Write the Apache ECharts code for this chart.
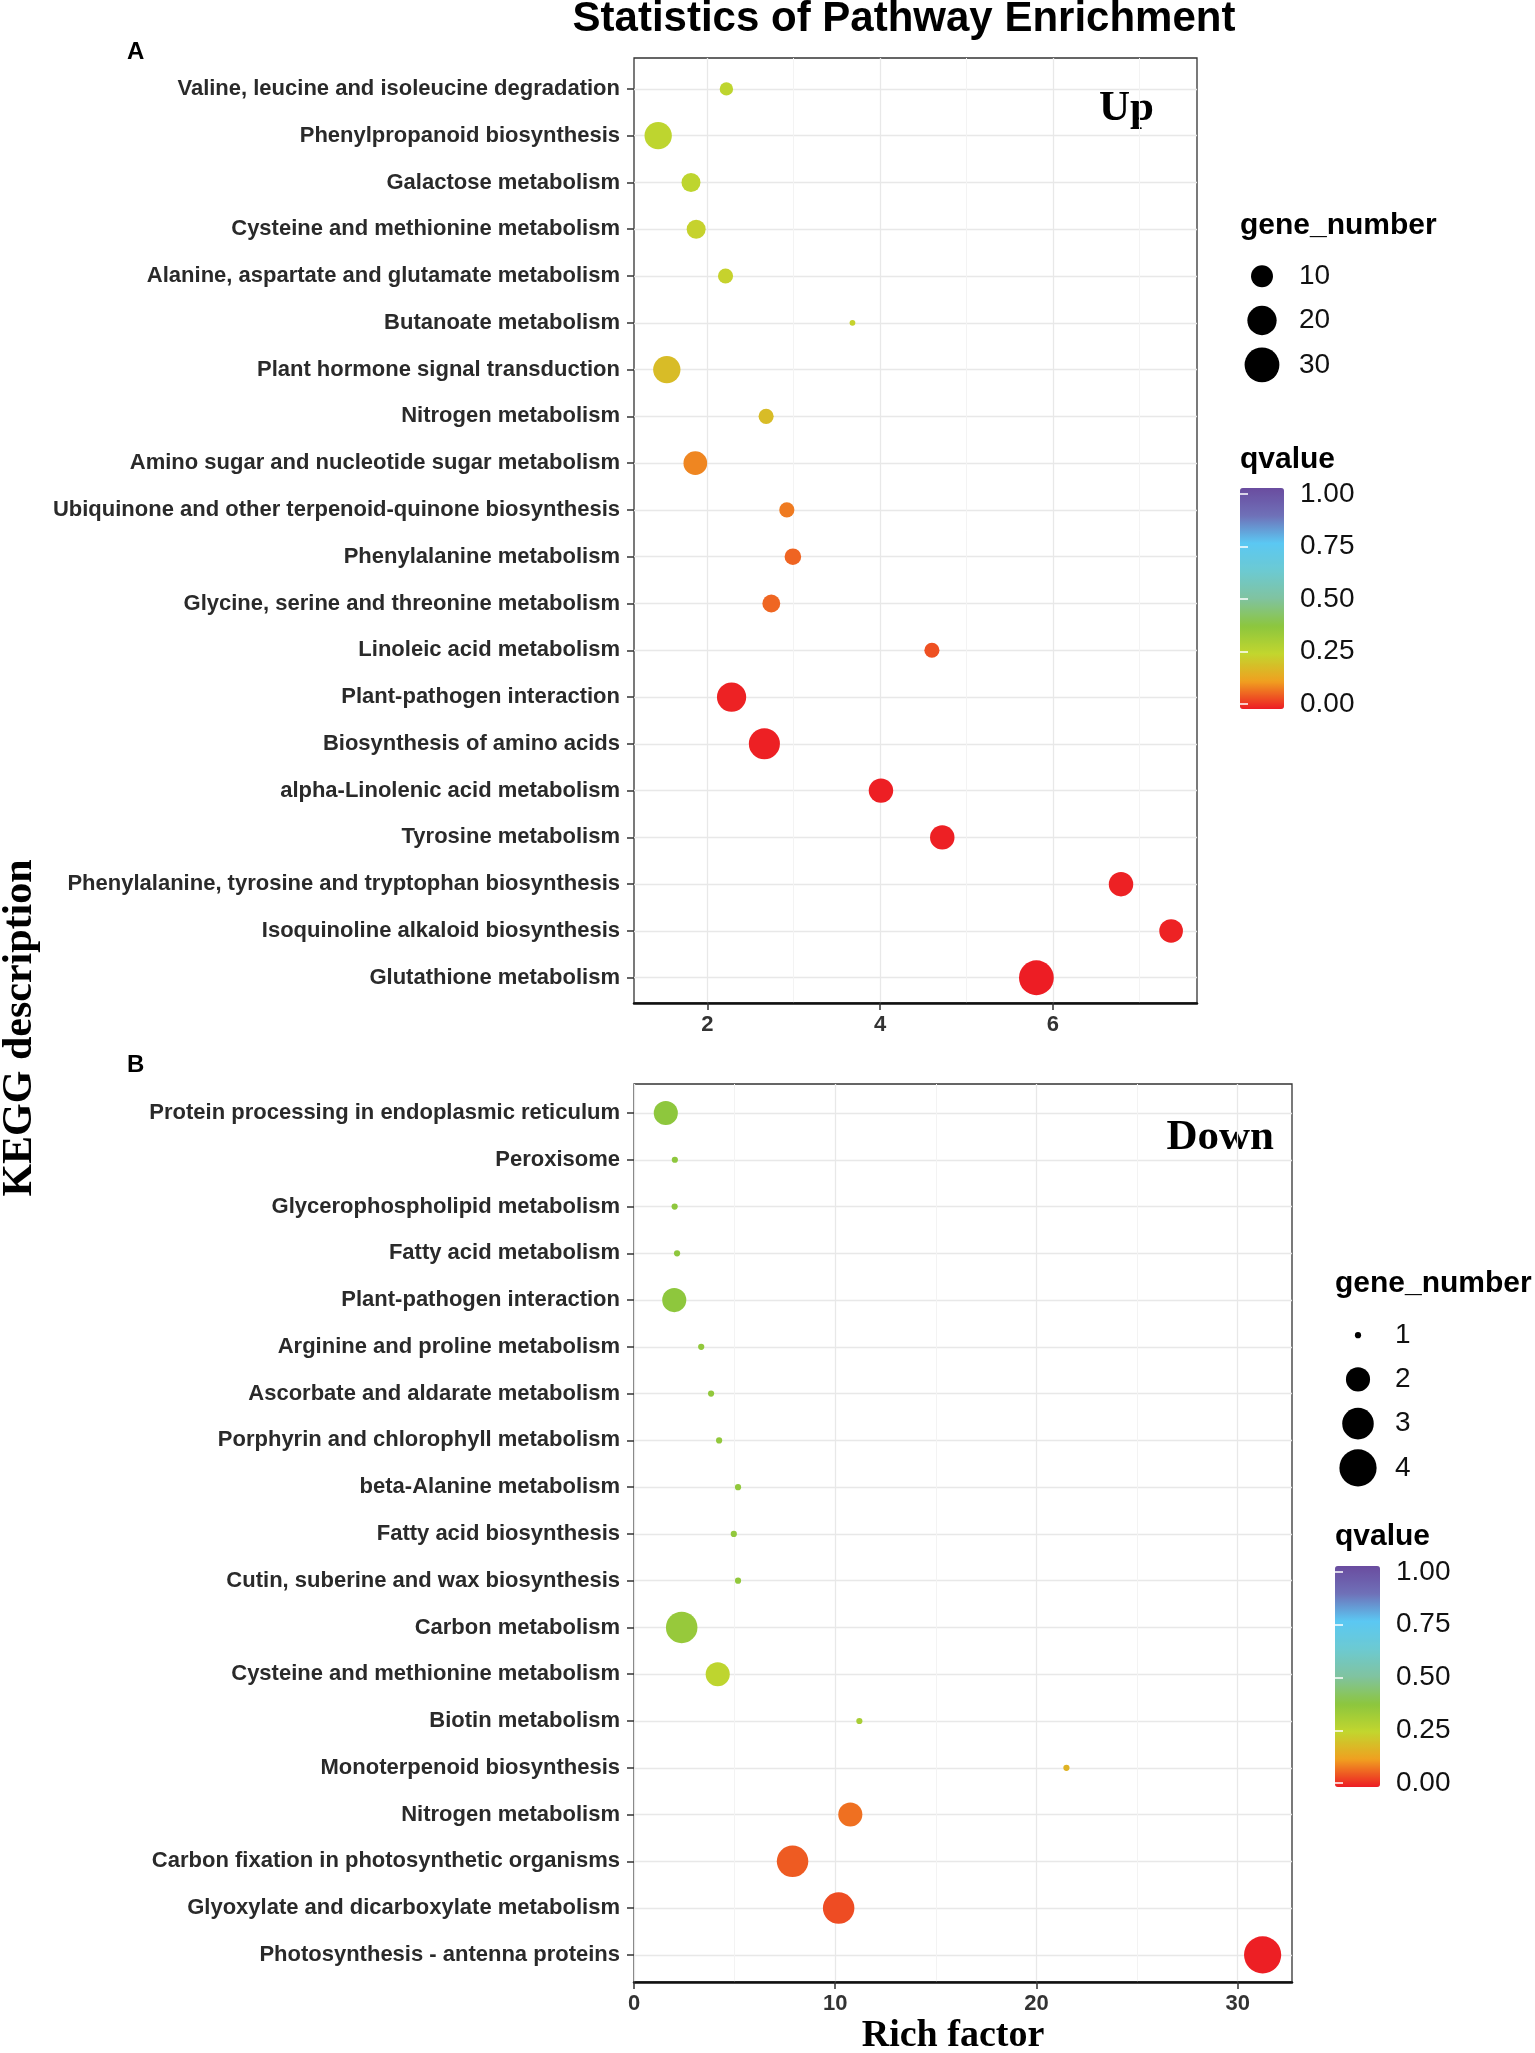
<!DOCTYPE html>
<html>
<head>
<meta charset="utf-8">
<title>Statistics of Pathway Enrichment</title>
<script src="https://cdn.jsdelivr.net/npm/echarts@6.0.0/dist/echarts.min.js"></script>
<style>
  html, body { margin: 0; padding: 0; background: #fff; }
  #main { width: 1535px; height: 2053px; }
</style>
</head>
<body>
<div id="main"></div>
<script>
// A: up-regulated pathways (top to bottom)
var pathwaysA = [
    'Valine, leucine and isoleucine degradation',
    'Phenylpropanoid biosynthesis',
    'Galactose metabolism',
    'Cysteine and methionine metabolism',
    'Alanine, aspartate and glutamate metabolism',
    'Butanoate metabolism',
    'Plant hormone signal transduction',
    'Nitrogen metabolism',
    'Amino sugar and nucleotide sugar metabolism',
    'Ubiquinone and other terpenoid-quinone biosynthesis',
    'Phenylalanine metabolism',
    'Glycine, serine and threonine metabolism',
    'Linoleic acid metabolism',
    'Plant-pathogen interaction',
    'Biosynthesis of amino acids',
    'alpha-Linolenic acid metabolism',
    'Tyrosine metabolism',
    'Phenylalanine, tyrosine and tryptophan biosynthesis',
    'Isoquinoline alkaloid biosynthesis',
    'Glutathione metabolism'
];
var richA = [2.22, 1.43, 1.81, 1.87, 2.21, 3.68, 1.53, 2.68, 1.86, 2.92,
             2.99, 2.74, 4.60, 2.28, 2.66, 4.01, 4.72, 6.79, 7.37, 5.81];
var genesA = [3, 17, 7, 7, 4, 1, 17, 4, 12, 4, 5, 6, 4, 20, 23, 13, 13, 13, 12, 30];
var qvalA = [0.26, 0.26, 0.26, 0.24, 0.24, 0.24, 0.19, 0.19, 0.10, 0.09,
             0.068, 0.07, 0.049, 0.006, 0.004, 0.003, 0.004, 0.005, 0.006, 0.001];
var xTicksA = [2, 4, 6];
var xMinorA = [3, 5, 7];
var sizeLegendA = [10, 20, 30];

// B: down-regulated pathways
var pathwaysB = [
    'Protein processing in endoplasmic reticulum',
    'Peroxisome',
    'Glycerophospholipid metabolism',
    'Fatty acid metabolism',
    'Plant-pathogen interaction',
    'Arginine and proline metabolism',
    'Ascorbate and aldarate metabolism',
    'Porphyrin and chlorophyll metabolism',
    'beta-Alanine metabolism',
    'Fatty acid biosynthesis',
    'Cutin, suberine and wax biosynthesis',
    'Carbon metabolism',
    'Cysteine and methionine metabolism',
    'Biotin metabolism',
    'Monoterpenoid biosynthesis',
    'Nitrogen metabolism',
    'Carbon fixation in photosynthetic organisms',
    'Glyoxylate and dicarboxylate metabolism',
    'Photosynthesis - antenna proteins'
];
var richB = [1.58, 2.03, 2.02, 2.14, 2.00, 3.34, 3.83, 4.23, 5.17, 4.96,
             5.17, 2.37, 4.16, 11.2, 21.49, 10.75, 7.88, 10.17, 31.24];
var genesB = [2, 1, 1, 1, 2, 1, 1, 1, 1, 1, 1, 3, 2, 1, 1, 2, 3, 3, 4];
var qvalB = [0.37, 0.37, 0.37, 0.37, 0.37, 0.36, 0.36, 0.36, 0.36, 0.36,
             0.36, 0.35, 0.26, 0.31, 0.17, 0.08, 0.06, 0.045, 0.003];
var xTicksB = [0, 10, 20, 30];
var xMinorB = [5, 15, 25];
var sizeLegendB = [1, 2, 3, 4];

var qTicks = [0, 0.25, 0.5, 0.75, 1];
var qColors = ['#ed1c24', '#f0a020', '#c2d62e', '#8cc63e', '#80c3a0',
               '#6ccad2', '#5bc8f3', '#6f70b8', '#6a4c9f'];

var SANS = '"Liberation Sans", Arial, sans-serif';
var SERIF = '"Liberation Serif", "Times New Roman", serif';

// ggplot-like area scale: radius grows with sqrt of the rescaled count
function sizeScale(unit, lo, hi) {
    return function (n) {
        return unit * (1 + 5 * Math.sqrt((n - lo) / (hi - lo)));
    };
}
var sizeA = sizeScale(5.8, Math.min.apply(null, genesA), Math.max.apply(null, genesA));
var sizeB = sizeScale(6.2, Math.min.apply(null, genesB), Math.max.apply(null, genesB));

function points(rich, genes, qval) {
    return rich.map(function (r, i) { return [r, i, genes[i], qval[i]]; });
}
function rangeIdx(n) {
    var out = [];
    for (var i = 0; i < n; i++) out.push(i);
    return out;
}

function majorX(grid, min, max, ticks) {
    return {
        gridIndex: grid, type: 'value', min: min, max: max,
        axisLine: { show: true, onZero: false, lineStyle: { color: '#111', width: 2.5 } },
        axisTick: { show: true, length: 7, customValues: ticks, lineStyle: { color: '#333', width: 1.5 } },
        axisLabel: { customValues: ticks, margin: 11, fontSize: 22, fontWeight: 'bold', color: '#333', fontFamily: SANS },
        splitLine: { show: true, lineStyle: { color: '#e8e8e8', width: 1.3 } }
    };
}
function minorX(grid, min, max, ticks) {
    return {
        gridIndex: grid, type: 'value', min: min, max: max,
        axisLine: { show: false },
        axisTick: { show: false, customValues: ticks },
        axisLabel: { show: false, customValues: ticks },
        splitLine: { show: true, lineStyle: { color: '#f3f3f3', width: 1 } }
    };
}
function pathwayY(grid, names, pad) {
    var idx = rangeIdx(names.length);
    return {
        gridIndex: grid, type: 'value', inverse: true,
        min: -pad, max: names.length - 1 + (1.2 - pad),
        axisLine: { show: false },
        axisTick: { show: true, length: 7, customValues: idx, lineStyle: { color: '#333', width: 1.5 } },
        axisLabel: {
            customValues: idx, margin: 14, fontSize: 22, fontWeight: 'bold', color: '#2a2a2a', fontFamily: SANS,
            formatter: function (v) { return names[Math.round(v)]; }
        },
        splitLine: { show: true, lineStyle: { color: '#e8e8e8', width: 1.3 } }
    };
}
function hiddenAxis(grid) {
    return { gridIndex: grid, type: 'value', show: false, min: 0, max: 1 };
}
function sizeLegendY(grid, vals) {
    var idx = rangeIdx(vals.length);
    return {
        gridIndex: grid, type: 'value', inverse: true, position: 'right',
        min: -0.5, max: vals.length - 0.5,
        axisLine: { show: false }, axisTick: { show: false, customValues: idx },
        splitLine: { show: false },
        axisLabel: {
            customValues: idx, margin: 25, fontSize: 28, color: '#111', fontFamily: SANS,
            formatter: function (v) { return String(vals[Math.round(v)]); }
        }
    };
}
function qLegendY(grid, side, withLabels) {
    return {
        gridIndex: grid, type: 'value', position: side, min: 0, max: 1, interval: 0.25, z: 6,
        axisLine: { show: false },
        axisTick: { show: true, inside: true, length: 8, customValues: qTicks, lineStyle: { color: '#fff', width: 1.5 } },
        splitLine: { show: false },
        axisLabel: {
            show: withLabels, customValues: qTicks, margin: 16, fontSize: 28, color: '#111', fontFamily: SANS,
            formatter: function (v) { return v.toFixed(2); }
        }
    };
}
function qMap(series, left, top, w, h) {
    return {
        type: 'continuous', min: 0, max: 1, dimension: 3, seriesIndex: series,
        left: left, top: top, itemWidth: w, itemHeight: h, padding: 0,
        calculable: false, hoverLink: false, realtime: false,
        inRange: { color: qColors }
    };
}
function txt(x, y, text, size, family, align, extra) {
    var el = {
        type: 'text', x: x, y: y, silent: true,
        style: {
            text: text, fontSize: size, fontWeight: 'bold', fontFamily: family,
            fill: '#000', align: align, verticalAlign: 'middle'
        }
    };
    if (extra) for (var k in extra) el[k] = extra[k];
    return el;
}

var myChart = echarts.init(document.getElementById('main'));

var option = {
    backgroundColor: '#fff',
    animation: false,
    grid: [
        { left: 634, top: 58, width: 563, height: 945, show: true, borderColor: '#333', borderWidth: 1.3 },
        { left: 634, top: 1084, width: 658, height: 898, show: true, borderColor: '#333', borderWidth: 1.3 },
        { left: 1250, top: 254, width: 24, height: 133 },
        { left: 1346, top: 1313, width: 24, height: 177 },
        { left: 1240, top: 494, width: 44, height: 210 },
        { left: 1335, top: 1572, width: 45, height: 211 }
    ],
    xAxis: [
        majorX(0, 1.15, 7.67, xTicksA),
        minorX(0, 1.15, 7.67, xMinorA),
        majorX(1, 0, 32.7, xTicksB),
        minorX(1, 0, 32.7, xMinorB),
        hiddenAxis(2), hiddenAxis(3), hiddenAxis(4), hiddenAxis(5)
    ],
    yAxis: [
        pathwayY(0, pathwaysA, 0.66),
        pathwayY(1, pathwaysB, 0.62),
        sizeLegendY(2, sizeLegendA),
        sizeLegendY(3, sizeLegendB),
        qLegendY(4, 'right', true),
        qLegendY(4, 'left', false),
        qLegendY(5, 'right', true),
        qLegendY(5, 'left', false)
    ],
    visualMap: [
        qMap(0, 1240, 488, 44, 221),
        qMap(1, 1335, 1566, 45, 221)
    ],
    series: [
        {
            name: 'Up', type: 'scatter', xAxisIndex: 0, yAxisIndex: 0,
            data: points(richA, genesA, qvalA),
            symbolSize: function (v) { return sizeA(v[2]); },
            itemStyle: { opacity: 1 }
        },
        {
            name: 'Down', type: 'scatter', xAxisIndex: 2, yAxisIndex: 1,
            data: points(richB, genesB, qvalB),
            symbolSize: function (v) { return sizeB(v[2]); },
            itemStyle: { opacity: 1 }
        },
        {
            name: 'gene_number A', type: 'scatter', xAxisIndex: 4, yAxisIndex: 2,
            data: sizeLegendA.map(function (n, i) { return [0.5, i, n]; }),
            symbolSize: function (v) { return sizeA(v[2]); },
            itemStyle: { color: '#000', opacity: 1 }
        },
        {
            name: 'gene_number B', type: 'scatter', xAxisIndex: 5, yAxisIndex: 3,
            data: sizeLegendB.map(function (n, i) { return [0.5, i, n]; }),
            symbolSize: function (v) { return sizeB(v[2]); },
            itemStyle: { color: '#000', opacity: 1 }
        }
    ],
    graphic: [
        txt(904, 19, 'Statistics of Pathway Enrichment', 42, SANS, 'center'),
        txt(127, 52, 'A', 24, SANS, 'left'),
        txt(127, 1065, 'B', 24, SANS, 'left'),
        txt(1154, 109, 'Up', 43, SERIF, 'right'),
        txt(1274, 1138, 'Down', 43, SERIF, 'right'),
        txt(20, 1028, 'KEGG description', 42, SERIF, 'center', { rotation: Math.PI / 2 }),
        txt(953, 2036, 'Rich factor', 38, SERIF, 'center'),
        txt(1240, 226, 'gene_number', 30, SANS, 'left'),
        txt(1240, 460, 'qvalue', 30, SANS, 'left'),
        txt(1335, 1284, 'gene_number', 30, SANS, 'left'),
        txt(1335, 1537, 'qvalue', 30, SANS, 'left')
    ]
};

myChart.setOption(option);
</script>
</body>
</html>
